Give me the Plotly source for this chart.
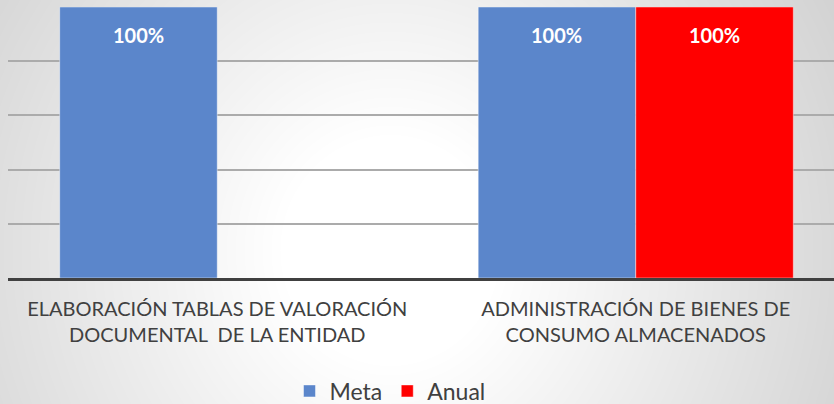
import base64, struct, zlib
import numpy as np
import plotly.graph_objects as go

# ---- data ----
categories = ["ELABORACIÓN TABLAS DE VALORACIÓN<br>DOCUMENTAL \u00a0DE LA ENTIDAD",
              "ADMINISTRACIÓN DE BIENES DE<br>CONSUMO ALMACENADOS"]
meta = [1.0, 1.0]
anual = [0.0, 1.0]
series_names = ["Meta", "Anual"]
series_colors = ["#5b86cb", "#ff0000"]

# ---- layout geometry ----
W, H = 834, 404
ml, mr, mt, mb = 8, 0, 7, 126
bargap = 0.247
x_range = [-0.5, -0.5 + (W - ml - mr) / 418.5]

# ---- radial gradient background (PNG built in memory) ----
yy, xx = np.mgrid[0:H, 0:W]
d = np.sqrt(((xx - 390) / 1.0) ** 2 + ((yy - 250) / 1.05) ** 2)
g = np.clip(255 - np.maximum(0, d - 110) * 0.112, 200, 255).astype(np.uint8)
raw = b"".join(b"\x00" + g[r].tobytes() for r in range(H))
def chunk(t, data):
    c = struct.pack(">I", len(data)) + t + data
    return c + struct.pack(">I", zlib.crc32(t + data) & 0xffffffff)
png = (b"\x89PNG\r\n\x1a\n" + chunk(b"IHDR", struct.pack(">IIBBBBB", W, H, 8, 0, 0, 0, 0))
       + chunk(b"IDAT", zlib.compress(raw, 9)) + chunk(b"IEND", b""))
bg_uri = "data:image/png;base64," + base64.b64encode(png).decode()

font = "Lato, 'Open Sans', sans-serif"
xpos = list(range(len(categories)))

fig = go.Figure()
for name, vals, col in zip(series_names, [meta, anual], series_colors):
    fig.add_trace(go.Bar(
        x=xpos, y=vals, name=name,
        marker=dict(color=col, line=dict(color="rgba(255,255,255,0.45)", width=1)),
        hoverinfo="skip",
    ))

# value labels near the top of each bar
bar_w = (1 - bargap) / 2
annotations = []
for si, vals in enumerate([meta, anual]):
    off = (si - 0.5) * bar_w
    for xi, v in zip(xpos, vals):
        if v:
            annotations.append(dict(
                x=xi + off, y=v, xref="x", yref="y", text=f"<b>{v:.0%}</b>",
                showarrow=False, yshift=-28, yanchor="middle",
                font=dict(family=font, size=20, color="white")))

plot_h = H - mt - mb
fig.update_layout(
    width=W, height=H,
    margin=dict(l=ml, r=mr, t=mt, b=mb, autoexpand=False),
    barmode="group", bargap=bargap, bargroupgap=0,
    paper_bgcolor="#e6e6e6", plot_bgcolor="rgba(0,0,0,0)",
    images=[dict(source=bg_uri, xref="paper", yref="paper",
                 x=-ml / (W - ml - mr), y=1 + mt / plot_h,
                 sizex=W / (W - ml - mr), sizey=H / plot_h,
                 xanchor="left", yanchor="top", sizing="stretch", layer="below")],
    xaxis=dict(range=x_range, tickvals=xpos, ticktext=categories,
               showline=True, linewidth=3, linecolor="#404040",
               showgrid=False, zeroline=False, ticks="",
               ticklabelstandoff=11, automargin=False,
               tickfont=dict(family=font, size=20, color="#404040")),
    yaxis=dict(range=[0, 1], dtick=0.2, showticklabels=False,
               showgrid=True, gridcolor="#ababab", gridwidth=1.5,
               zeroline=False, showline=False, automargin=False),
    showlegend=True,
    legend=dict(orientation="h", x=(390 - ml) / (W - ml - mr), xanchor="center",
                y=-(391 - (H - mb)) / plot_h, yanchor="middle",
                font=dict(family=font, size=23, color="#404040"),
                bgcolor="rgba(0,0,0,0)", itemwidth=30),
    annotations=annotations,
)

fig.write_html("out.html", config={"displayModeBar": False},
               post_script="document.body.style.margin='0';document.body.style.padding='0';")
